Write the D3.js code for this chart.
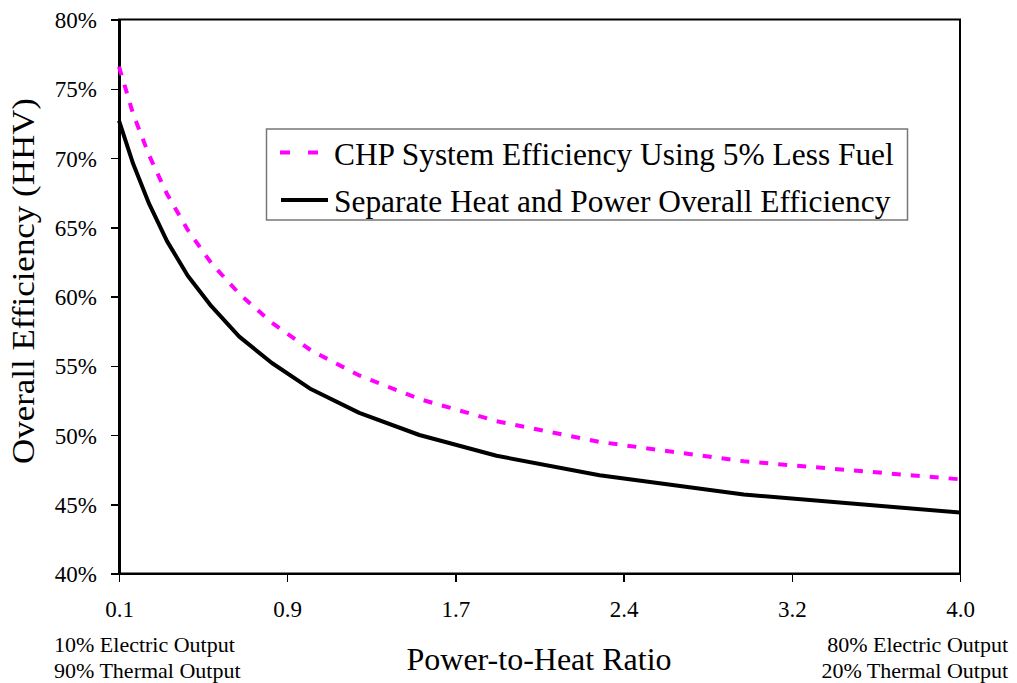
<!DOCTYPE html>
<html>
<head>
<meta charset="utf-8">
<style>
  body { margin: 0; background: #fff; }
  svg text { font-family: "Liberation Serif", "Times New Roman", serif; fill: #000; }
  .axis path, .axis line { stroke: #000; shape-rendering: crispEdges; }
  .axis text { font-size: 23px; }
  .axis_title { font-size: 32px; }
  .sub_label { font-size: 22px; }
  .legend text { font-size: 31.4px; }
</style>
</head>
<body>
<script src="https://d3js.org/d3.v7.min.js"></script>
<script>
// power-to-heat ratio (10% .. 80% electric output)
var ratios = [0.111, 0.176, 0.25, 0.333, 0.429, 0.538, 0.667, 0.818, 1.0, 1.222, 1.5, 1.857, 2.333, 3.0, 4.0];
var separateEff = [72.7, 69.6, 66.7, 64.0, 61.5, 59.3, 57.1, 55.2, 53.3, 51.6, 50.0, 48.5, 47.1, 45.7, 44.4];
var chpEff = [76.6, 73.2, 70.2, 67.4, 64.8, 62.4, 60.2, 58.1, 56.1, 54.3, 52.6, 51.0, 49.5, 48.1, 46.8];

var xTicks = [0.111, 0.889, 1.667, 2.444, 3.222, 4.0];
var xTickLabels = ["0.1", "0.9", "1.7", "2.4", "3.2", "4.0"];
var yTicks = [40, 45, 50, 55, 60, 65, 70, 75, 80];

var seriesNames = ["CHP System Efficiency Using 5% Less Fuel", "Separate Heat and Power Overall Efficiency"];

var width = 1017, height = 683;
var plot = { left: 119, right: 960, top: 19.5, bottom: 573.5 };

var svg = d3.select("body").append("svg")
    .attr("width", width)
    .attr("height", height);

var x = d3.scaleLinear()
    .domain([0.111, 4.0])
    .range([plot.left, plot.right]);

var y = d3.scaleLinear()
    .domain([40, 80])
    .range([plot.bottom, plot.top]);

// frame
svg.append("rect")
    .attr("x", plot.left)
    .attr("y", plot.top)
    .attr("width", plot.right - plot.left)
    .attr("height", plot.bottom - plot.top)
    .attr("fill", "none")
    .attr("stroke", "#000")
    .attr("stroke-width", 2);

var xAxis = d3.axisBottom(x)
    .tickValues(xTicks)
    .tickFormat(function(d, i) { return xTickLabels[i]; })
    .tickSize(8)
    .tickSizeOuter(0)
    .tickPadding(19);

var yAxis = d3.axisLeft(y)
    .tickValues(yTicks)
    .tickFormat(function(d) { return d + "%"; })
    .tickSize(8)
    .tickSizeOuter(0)
    .tickPadding(14);

var gx = svg.append("g")
    .attr("class", "x axis")
    .attr("transform", "translate(0," + plot.bottom + ")")
    .call(xAxis);
gx.select(".domain").attr("stroke-width", 2);
gx.selectAll(".tick line").attr("stroke-width", 1.5);

var gy = svg.append("g")
    .attr("class", "y axis")
    .attr("transform", "translate(" + plot.left + ",0)")
    .call(yAxis);
gy.select(".domain").attr("stroke-width", 2);
gy.selectAll(".tick line").attr("stroke-width", 1.5);
gy.selectAll(".tick text").attr("dy", "0.35em");

// lines
var line = d3.line()
    .x(function(d) { return x(d[0]); })
    .y(function(d) { return y(d[1]); });

svg.append("path")
    .datum(d3.zip(ratios, separateEff))
    .attr("fill", "none")
    .attr("stroke", "#000")
    .attr("stroke-width", 4)
    .attr("stroke-linejoin", "round")
    .attr("d", line);

svg.append("path")
    .datum(d3.zip(ratios, chpEff))
    .attr("fill", "none")
    .attr("stroke", "#ff00ff")
    .attr("stroke-width", 4)
    .attr("stroke-dasharray", "9,10")
    .attr("d", line);

// titles
svg.append("text")
    .attr("class", "axis_title")
    .attr("text-anchor", "middle")
    .attr("transform", "translate(34,281) rotate(-90)")
    .attr("textLength", 366)
    .attr("lengthAdjust", "spacingAndGlyphs")
    .text("Overall Efficiency (HHV)");

svg.append("text")
    .attr("class", "axis_title")
    .attr("text-anchor", "middle")
    .attr("x", 539)
    .attr("y", 670)
    .text("Power-to-Heat Ratio");

svg.append("text").attr("class", "sub_label").attr("x", 54).attr("y", 652).text("10% Electric Output");
svg.append("text").attr("class", "sub_label").attr("x", 54).attr("y", 678).text("90% Thermal Output");
svg.append("text").attr("class", "sub_label").attr("x", 1008).attr("y", 652).attr("text-anchor", "end").text("80% Electric Output");
svg.append("text").attr("class", "sub_label").attr("x", 1008).attr("y", 678).attr("text-anchor", "end").text("20% Thermal Output");

// legend
var legend = svg.append("g").attr("class", "legend");
legend.append("rect")
    .attr("x", 266.5)
    .attr("y", 129)
    .attr("width", 641)
    .attr("height", 91)
    .attr("fill", "#fff")
    .attr("stroke", "#777")
    .attr("stroke-width", 1.5);

legend.append("line")
    .attr("x1", 280).attr("x2", 320)
    .attr("y1", 152.5).attr("y2", 152.5)
    .attr("stroke", "#ff00ff")
    .attr("stroke-width", 4)
    .attr("stroke-dasharray", "10,18");
legend.append("line")
    .attr("x1", 281).attr("x2", 328)
    .attr("y1", 200).attr("y2", 200)
    .attr("stroke", "#000")
    .attr("stroke-width", 4);

legend.append("text").attr("x", 334).attr("y", 165).text(seriesNames[0]);
legend.append("text").attr("x", 334).attr("y", 212).text(seriesNames[1]);
</script>
</body>
</html>
